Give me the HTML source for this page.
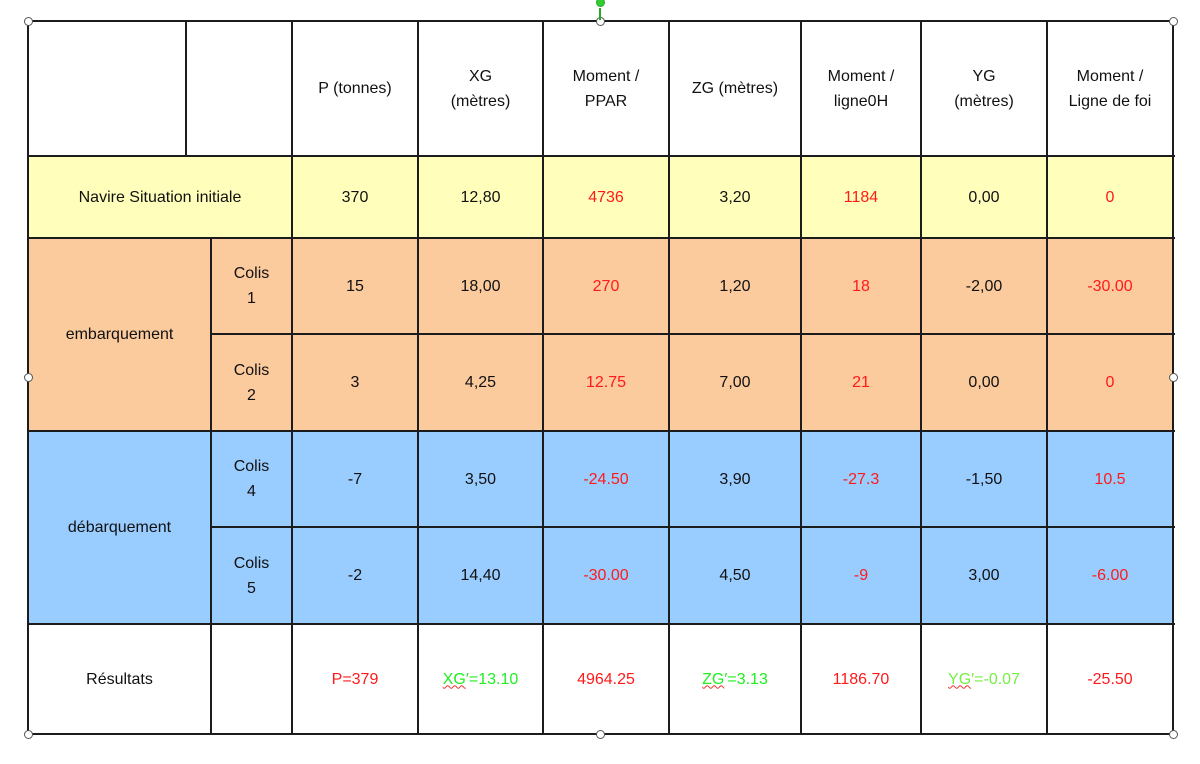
<!DOCTYPE html>
<html><head><meta charset="utf-8"><style>
body{margin:0;width:1200px;height:764px;background:#fff;position:relative;overflow:hidden;font-family:"Liberation Sans",Calibri,sans-serif;font-size:16px;color:#111}
.c{position:absolute;display:flex;align-items:center;justify-content:center;text-align:center;line-height:25px}
.y{background:#ffffbb}.o{background:#fbca9d}.b{background:#99ccff}
.r{color:#ff1a1a}.g{color:#22ee22}.lg{color:#77ee44}
.v{position:absolute;width:2px;background:#1c1c1c}
.h{position:absolute;height:2px;background:#1c1c1c}
.k{position:absolute;width:7px;height:7px;border:1px solid #555;border-radius:50%;background:#fff;margin:-4px 0 0 -4px}
.w{text-decoration:underline wavy #e33;text-decoration-thickness:1px}
</style></head><body>
<div>
<!-- header -->
<div class="c" style="left:292px;top:21px;width:126px;height:135px">P (tonnes)</div>
<div class="c" style="left:418px;top:21px;width:125px;height:135px">XG<br>(mètres)</div>
<div class="c" style="left:543px;top:21px;width:126px;height:135px">Moment /<br>PPAR</div>
<div class="c" style="left:669px;top:21px;width:132px;height:135px">ZG (mètres)</div>
<div class="c" style="left:801px;top:21px;width:120px;height:135px">Moment /<br>ligne0H</div>
<div class="c" style="left:921px;top:21px;width:126px;height:135px">YG<br>(mètres)</div>
<div class="c" style="left:1047px;top:21px;width:126px;height:135px">Moment /<br>Ligne de foi</div>
<!-- row yellow -->
<div class="c y" style="left:28px;top:156px;width:1145px;height:82px"></div>
<div class="c" style="left:28px;top:156px;width:264px;height:82px">Navire Situation initiale</div>
<div class="c" style="left:292px;top:156px;width:126px;height:82px">370</div>
<div class="c" style="left:418px;top:156px;width:125px;height:82px">12,80</div>
<div class="c r" style="left:543px;top:156px;width:126px;height:82px">4736</div>
<div class="c" style="left:669px;top:156px;width:132px;height:82px">3,20</div>
<div class="c r" style="left:801px;top:156px;width:120px;height:82px">1184</div>
<div class="c" style="left:921px;top:156px;width:126px;height:82px">0,00</div>
<div class="c r" style="left:1047px;top:156px;width:126px;height:82px">0</div>
<!-- orange -->
<div class="c o" style="left:28px;top:238px;width:1145px;height:193px"></div>
<div class="c" style="left:28px;top:238px;width:183px;height:193px">embarquement</div>
<div class="c" style="left:211px;top:238px;width:81px;height:96px">Colis<br>1</div>
<div class="c" style="left:292px;top:238px;width:126px;height:96px">15</div>
<div class="c" style="left:418px;top:238px;width:125px;height:96px">18,00</div>
<div class="c r" style="left:543px;top:238px;width:126px;height:96px">270</div>
<div class="c" style="left:669px;top:238px;width:132px;height:96px">1,20</div>
<div class="c r" style="left:801px;top:238px;width:120px;height:96px">18</div>
<div class="c" style="left:921px;top:238px;width:126px;height:96px">-2,00</div>
<div class="c r" style="left:1047px;top:238px;width:126px;height:96px">-30.00</div>
<div class="c" style="left:211px;top:334px;width:81px;height:97px">Colis<br>2</div>
<div class="c" style="left:292px;top:334px;width:126px;height:97px">3</div>
<div class="c" style="left:418px;top:334px;width:125px;height:97px">4,25</div>
<div class="c r" style="left:543px;top:334px;width:126px;height:97px">12.75</div>
<div class="c" style="left:669px;top:334px;width:132px;height:97px">7,00</div>
<div class="c r" style="left:801px;top:334px;width:120px;height:97px">21</div>
<div class="c" style="left:921px;top:334px;width:126px;height:97px">0,00</div>
<div class="c r" style="left:1047px;top:334px;width:126px;height:97px">0</div>
<!-- blue -->
<div class="c b" style="left:28px;top:431px;width:1145px;height:193px"></div>
<div class="c" style="left:28px;top:431px;width:183px;height:193px">débarquement</div>
<div class="c" style="left:211px;top:431px;width:81px;height:96px">Colis<br>4</div>
<div class="c" style="left:292px;top:431px;width:126px;height:96px">-7</div>
<div class="c" style="left:418px;top:431px;width:125px;height:96px">3,50</div>
<div class="c r" style="left:543px;top:431px;width:126px;height:96px">-24.50</div>
<div class="c" style="left:669px;top:431px;width:132px;height:96px">3,90</div>
<div class="c r" style="left:801px;top:431px;width:120px;height:96px">-27.3</div>
<div class="c" style="left:921px;top:431px;width:126px;height:96px">-1,50</div>
<div class="c r" style="left:1047px;top:431px;width:126px;height:96px">10.5</div>
<div class="c" style="left:211px;top:527px;width:81px;height:97px">Colis<br>5</div>
<div class="c" style="left:292px;top:527px;width:126px;height:97px">-2</div>
<div class="c" style="left:418px;top:527px;width:125px;height:97px">14,40</div>
<div class="c r" style="left:543px;top:527px;width:126px;height:97px">-30.00</div>
<div class="c" style="left:669px;top:527px;width:132px;height:97px">4,50</div>
<div class="c r" style="left:801px;top:527px;width:120px;height:97px">-9</div>
<div class="c" style="left:921px;top:527px;width:126px;height:97px">3,00</div>
<div class="c r" style="left:1047px;top:527px;width:126px;height:97px">-6.00</div>
<!-- results -->
<div class="c" style="left:28px;top:624px;width:183px;height:110px">Résultats</div>
<div class="c r" style="left:292px;top:624px;width:126px;height:110px">P=379</div>
<div class="c g" style="left:418px;top:624px;width:125px;height:110px"><span><span class="w">XG</span>′=13.10</span></div>
<div class="c r" style="left:543px;top:624px;width:126px;height:110px">4964.25</div>
<div class="c g" style="left:669px;top:624px;width:132px;height:110px"><span><span class="w">ZG</span>′=3.13</span></div>
<div class="c r" style="left:801px;top:624px;width:120px;height:110px">1186.70</div>
<div class="c lg" style="left:921px;top:624px;width:126px;height:110px"><span><span class="w">YG</span>′=-0.07</span></div>
<div class="c r" style="left:1047px;top:624px;width:126px;height:110px">-25.50</div>
<!-- grid lines -->
<div class="h" style="left:27px;top:20px;width:1148px"></div>
<div class="h" style="left:27px;top:155px;width:1148px"></div>
<div class="h" style="left:27px;top:237px;width:1148px"></div>
<div class="h" style="left:210px;top:333px;width:965px"></div>
<div class="h" style="left:27px;top:430px;width:1148px"></div>
<div class="h" style="left:210px;top:526px;width:965px"></div>
<div class="h" style="left:27px;top:623px;width:1148px"></div>
<div class="h" style="left:27px;top:733px;width:1148px"></div>
<div class="v" style="left:27px;top:20px;height:715px"></div>
<div class="v" style="left:185px;top:20px;height:137px"></div>
<div class="v" style="left:210px;top:237px;height:498px"></div>
<div class="v" style="left:291px;top:20px;height:715px"></div>
<div class="v" style="left:417px;top:20px;height:715px"></div>
<div class="v" style="left:542px;top:20px;height:715px"></div>
<div class="v" style="left:668px;top:20px;height:715px"></div>
<div class="v" style="left:800px;top:20px;height:715px"></div>
<div class="v" style="left:920px;top:20px;height:715px"></div>
<div class="v" style="left:1046px;top:20px;height:715px"></div>
<div class="v" style="left:1172px;top:20px;height:715px"></div>
</div>
<!-- selection handles -->
<div class="k" style="left:28px;top:21px"></div>
<div class="k" style="left:600px;top:21px"></div>
<div class="k" style="left:1173px;top:21px"></div>
<div class="k" style="left:28px;top:377px"></div>
<div class="k" style="left:1173px;top:377px"></div>
<div class="k" style="left:28px;top:734px"></div>
<div class="k" style="left:600px;top:734px"></div>
<div class="k" style="left:1173px;top:734px"></div>
<div style="position:absolute;left:599px;top:8px;width:2px;height:12px;background:#2a2"></div>
<div class="k" style="left:600px;top:2px;border-color:#2a2;background:#3c3"></div>
</body></html>
